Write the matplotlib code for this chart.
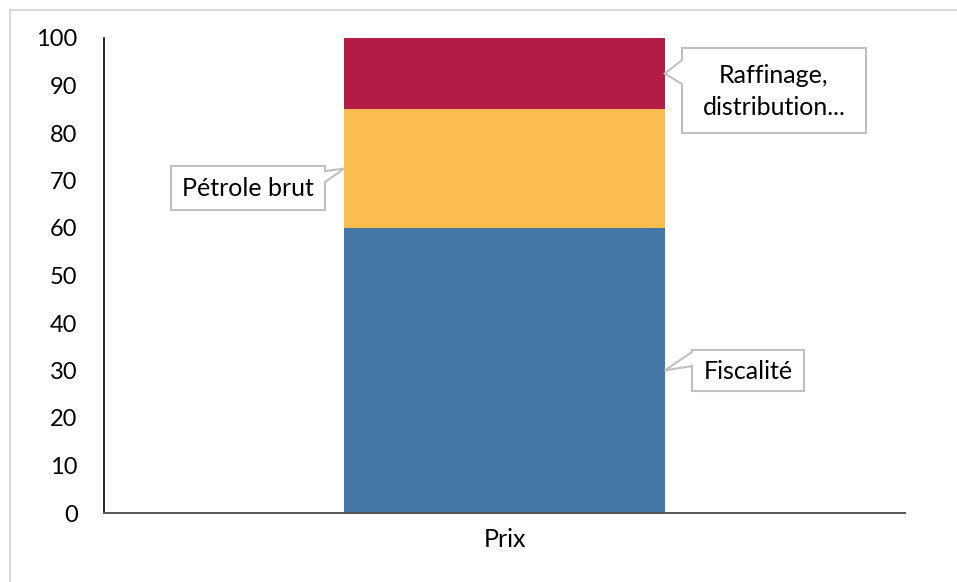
import numpy as np
import matplotlib
matplotlib.use('Agg')
import matplotlib.pyplot as plt
from matplotlib.patches import Polygon
from matplotlib.lines import Line2D
from matplotlib.transforms import Affine2D

plt.rcParams['font.family'] = ['Lato', 'DejaVu Sans']

W, H = 957, 582

categories = ['Prix']
parts = ['Fiscalité', 'Pétrole brut', 'Raffinage,\ndistribution...']
values = [60, 25, 15]
colors = ['#4577a6', '#fbbd4f', '#b31c47']

fig = plt.figure(figsize=(W / 100, H / 100), dpi=100)
ax = fig.add_axes([104 / W, 69 / H, 801 / W, 475 / H])

x = np.arange(len(categories))
bottom = 0
mids = []
for v, c in zip(values, colors):
    ax.bar(x, v, width=0.8, bottom=bottom, color=c, zorder=2)
    mids.append(bottom + v / 2)
    bottom += v

ax.set_xlim(-1, 1)
ax.set_ylim(0, 100)
ax.set_yticks(np.arange(0, 101, 10))
ax.set_xticks(x)
ax.set_xticklabels(categories)
ax.tick_params(axis='y', length=0, labelsize=17, pad=19)
ax.tick_params(axis='x', length=0, labelsize=18, pad=11)
for s in ['top', 'right']:
    ax.spines[s].set_visible(False)
ax.spines['left'].set_linewidth(1.2)
ax.spines['bottom'].set_linewidth(1.4)
ax.spines['bottom'].set_color('#555555')
ax.spines['bottom'].set_zorder(3)

# image pixel coords (origin top-left) -> display
img = Affine2D().scale(1, -1).translate(0, H)

# outer frame: only top and left edges visible
fig.add_artist(Line2D([10, W], [10, 10], transform=img, color='#d0d0d0', lw=1.2))
fig.add_artist(Line2D([10, 10], [10, H], transform=img, color='#d0d0d0', lw=1.2))


def tip_of(xd, yd):
    px, py = ax.transData.transform((xd, yd))
    return px, H - py


def callout(text, tip, box, base):
    # box: (x0, y0, x1, y1) image coords, base: two points on box edge for tail
    x0, y0, x1, y1 = box
    (bx0, by0), (bx1, by1) = base
    tx, ty = tip
    if bx0 == x1:  # tail on right edge
        pts = [(x0, y0), (x1, y0), (x1, by0), (tx, ty), (x1, by1), (x1, y1), (x0, y1)]
    else:          # tail on left edge
        pts = [(x0, y0), (x1, y0), (x1, y1), (x0, y1), (x0, by1), (tx, ty), (x0, by0)]
    fig.add_artist(Polygon(pts, closed=True, transform=img, facecolor='white',
                           edgecolor='#bfbfbf', lw=1.5, zorder=5))
    fig.text((x0 + x1) / 2, (y0 + y1) / 2 + 1, text, transform=img, ha='center',
             va='center', fontsize=18, linespacing=1.45, zorder=6)


bar_left = x[0] - 0.4
bar_right = x[0] + 0.4

t = tip_of(bar_right, mids[0])
callout(parts[0], t, (692, 350, 804, 391), ((692, 352), (692, 366)))

t = tip_of(bar_left, mids[1])
callout(parts[1], t, (171, 166, 325, 210), ((325, 171), (325, 182)))

t = tip_of(bar_right, mids[2])
callout(parts[2], t, (682, 48, 866, 133), ((682, 60), (682, 84)))

fig.savefig('out.png', dpi=100)
